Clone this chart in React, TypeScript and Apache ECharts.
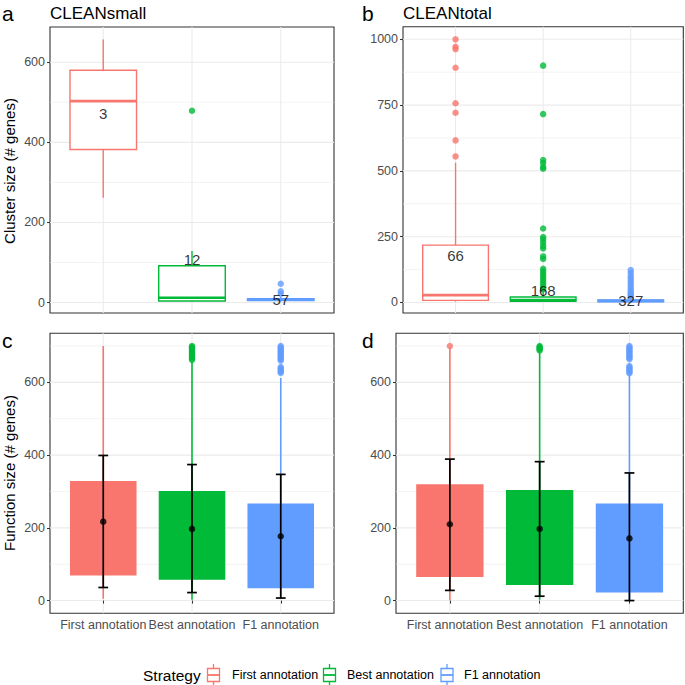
import React, { useEffect, useRef } from "react";
import * as echarts from "echarts";

const FONT = "'Liberation Sans', Arial, Helvetica, sans-serif";

const categories = ["First annotation", "Best annotation", "F1 annotation"];
const colors = ["#F8766D", "#00BA38", "#619CFF"];

// Panel a (CLEANsmall): [whiskerLow, Q1, median, Q3, whiskerHigh]
const boxA = [
  [262, 382, 503, 580, 657],
  [3, 4, 12, 92, 129],
  [3, 5, 7, 10, 14],
];
const outliersA = [[], [479], [47, 28, 22]];
const countsA = ["3", "12", "57"];
const countPosA = [472, 107, 7];

// Panel b (CLEANtotal)
const boxB = [
  [3, 8, 28, 218, 531],
  [2, 4, 9, 21, 45],
  [1, 3, 6, 10, 20],
];
const outliersB = [
  [1000, 972, 963, 892, 757, 721, 616, 555],
  [900, 716, 541, 530, 515, 508, 281, 249, 240, 228, 215, 205, 175, 165, 128, 118, 108, 98, 88, 78, 68, 58, 50],
  [123, 112, 100, 90, 80, 70, 60, 50, 42, 35, 28, 24],
];
const countsB = ["66", "168", "327"];
const countPosB = [177, 44, 9];

// Panel c (function sizes, CLEANsmall): [whiskerLow, Q1, Q3, whiskerHigh]
const boxC = [
  [5, 69, 329, 700],
  [2, 57, 301, 656],
  [5, 34, 267, 612],
];
const outliersC = [
  [],
  [700, 697, 694, 690, 686, 682, 678, 674, 670, 666, 662],
  [700, 696, 692, 688, 684, 680, 676, 672, 668, 664, 660, 642, 638, 634, 630, 626],
];
// [low, mean, high]
const errC = [
  [36, 217, 399],
  [22, 197, 374],
  [7, 177, 347],
];

// Panel d (function sizes, CLEANtotal)
const boxD = [
  [1, 65, 320, 695],
  [2, 43, 304, 684],
  [1, 22, 267, 620],
];
const outliersD = [
  [700],
  [700, 697, 694, 691, 688],
  [700, 696, 692, 688, 684, 680, 676, 672, 668, 664, 645, 641, 637, 633, 629, 625],
];
const errD = [
  [28, 210, 389],
  [12, 197, 382],
  [0, 171, 351],
];

const ticksA = [0, 200, 400, 600];
const minorA = [100, 300, 500];
const ticksB = [0, 250, 500, 750, 1000];
const minorB = [125, 375, 625, 875];
const ticksCD = [0, 200, 400, 600];
const minorCD = [100, 300, 500, 700];

const panelTitles = ["CLEANsmall", "CLEANtotal"];
const panelLetters = ["a", "b", "c", "d"];
const yTitles = ["Cluster size (# genes)", "Function size (# genes)"];
const legendTitle = "Strategy";

const grids = [
  { left: 50, top: 27, width: 284, height: 286, ymin: -26, ymax: 688 },
  { left: 403, top: 26.7, width: 280.3, height: 286.3, ymin: -40, ymax: 1048 },
  { left: 50, top: 333.3, width: 284, height: 280, ymin: -35, ymax: 735 },
  { left: 396, top: 333.3, width: 287.3, height: 280, ymin: -35, ymax: 735 },
];

function gridSeries(gi: number, ticks: number[], minor: number[]) {
  const data: number[][] = [];
  ticks.forEach((v) => data.push([0, v]));
  minor.forEach((v) => data.push([1, v]));
  [1, 2, 3].forEach((v) => data.push([2, v]));
  return {
    type: "custom",
    xAxisIndex: gi,
    yAxisIndex: gi,
    silent: true,
    z: 0,
    data,
    renderItem: (params: any, api: any) => {
      const cs = params.coordSys;
      const kind = api.value(0);
      const v = api.value(1);
      if (kind === 2) {
        const p = api.coord([v, 0]);
        return {
          type: "line",
          shape: { x1: p[0], y1: cs.y, x2: p[0], y2: cs.y + cs.height },
          style: { stroke: "#EBEBEB", lineWidth: 1.07 },
        };
      }
      const p = api.coord([1, v]);
      return {
        type: "line",
        shape: { x1: cs.x, y1: p[1], x2: cs.x + cs.width, y2: p[1] },
        style: { stroke: "#EBEBEB", lineWidth: kind === 0 ? 1.07 : 0.6 },
      };
    },
  };
}

function boxplotSeries(gi: number, boxes: number[][]) {
  return {
    type: "custom",
    xAxisIndex: gi,
    yAxisIndex: gi,
    z: 2,
    data: boxes.map((b, i) => [i + 1, ...b]),
    encode: { x: 0, y: [1, 2, 3, 4, 5] },
    renderItem: (params: any, api: any) => {
      const x = api.value(0);
      const lo = api.coord([x, api.value(1)]);
      const q1 = api.coord([x, api.value(2)]);
      const md = api.coord([x, api.value(3)]);
      const q3 = api.coord([x, api.value(4)]);
      const hi = api.coord([x, api.value(5)]);
      const w = api.size([0.75, 0])[0];
      const c = colors[params.dataIndex];
      return {
        type: "group",
        children: [
          { type: "line", shape: { x1: lo[0], y1: lo[1], x2: q1[0], y2: q1[1] }, style: { stroke: c, lineWidth: 1.4 } },
          { type: "line", shape: { x1: q3[0], y1: q3[1], x2: hi[0], y2: hi[1] }, style: { stroke: c, lineWidth: 1.4 } },
          {
            type: "rect",
            shape: { x: q3[0] - w / 2, y: q3[1], width: w, height: q1[1] - q3[1] },
            style: { fill: "#ffffff", stroke: c, lineWidth: 1.4 },
          },
          {
            type: "line",
            shape: { x1: md[0] - w / 2, y1: md[1], x2: md[0] + w / 2, y2: md[1] },
            style: { stroke: c, lineWidth: 2.6 },
          },
        ],
      };
    },
  };
}

function filledBoxSeries(gi: number, boxes: number[][]) {
  return {
    type: "custom",
    xAxisIndex: gi,
    yAxisIndex: gi,
    z: 2,
    data: boxes.map((b, i) => [i + 1, ...b]),
    encode: { x: 0, y: [1, 2, 3, 4] },
    renderItem: (params: any, api: any) => {
      const x = api.value(0);
      const lo = api.coord([x, api.value(1)]);
      const q1 = api.coord([x, api.value(2)]);
      const q3 = api.coord([x, api.value(3)]);
      const hi = api.coord([x, api.value(4)]);
      const w = api.size([0.75, 0])[0];
      const c = colors[params.dataIndex];
      return {
        type: "group",
        children: [
          { type: "line", shape: { x1: lo[0], y1: lo[1], x2: hi[0], y2: hi[1] }, style: { stroke: c, lineWidth: 1.6 } },
          {
            type: "rect",
            shape: { x: q3[0] - w / 2, y: q3[1], width: w, height: q1[1] - q3[1] },
            style: { fill: c, stroke: null },
          },
        ],
      };
    },
  };
}

function outlierSeries(gi: number, outs: number[][]) {
  const data: any[] = [];
  outs.forEach((arr, i) =>
    arr.forEach((v) => data.push({ value: [i + 1, v], itemStyle: { color: colors[i] } }))
  );
  return {
    type: "scatter",
    xAxisIndex: gi,
    yAxisIndex: gi,
    z: 3,
    symbolSize: 6.5,
    silent: true,
    data,
  };
}

function countSeries(gi: number, counts: string[], pos: number[]) {
  return {
    type: "scatter",
    xAxisIndex: gi,
    yAxisIndex: gi,
    z: 5,
    symbolSize: 1,
    itemStyle: { color: "rgba(0,0,0,0)" },
    silent: true,
    data: counts.map((c, i) => ({ name: c, value: [i + 1, pos[i]] })),
    label: {
      show: true,
      position: "inside",
      formatter: "{b}",
      color: "#000000",
      fontSize: 15,
      fontFamily: FONT,
    },
  };
}

function errorSeries(gi: number, errs: number[][]) {
  return {
    type: "custom",
    xAxisIndex: gi,
    yAxisIndex: gi,
    z: 4,
    data: errs.map((e, i) => [i + 1, e[0], e[1], e[2]]),
    encode: { x: 0, y: [1, 2, 3] },
    renderItem: (params: any, api: any) => {
      const x = api.value(0);
      const lo = api.coord([x, api.value(1)]);
      const hi = api.coord([x, api.value(3)]);
      const cw = api.size([0.11, 0])[0];
      const st = { stroke: "#000000", lineWidth: 1.7 };
      return {
        type: "group",
        children: [
          { type: "line", shape: { x1: lo[0], y1: lo[1], x2: hi[0], y2: hi[1] }, style: st },
          { type: "line", shape: { x1: lo[0] - cw / 2, y1: lo[1], x2: lo[0] + cw / 2, y2: lo[1] }, style: st },
          { type: "line", shape: { x1: hi[0] - cw / 2, y1: hi[1], x2: hi[0] + cw / 2, y2: hi[1] }, style: st },
        ],
      };
    },
  };
}

function meanSeries(gi: number, errs: number[][]) {
  return {
    type: "scatter",
    xAxisIndex: gi,
    yAxisIndex: gi,
    z: 5,
    symbolSize: 6.5,
    silent: true,
    itemStyle: { color: "#000000" },
    data: errs.map((e, i) => [i + 1, e[1]]),
  };
}

function xAxisCfg(gi: number, showLabels: boolean) {
  return {
    type: "value",
    gridIndex: gi,
    min: 0.4,
    max: 3.6,
    axisLine: { show: false },
    axisTick: {
      show: showLabels,
      customValues: [1, 2, 3],
      length: 3,
      lineStyle: { color: "#333333", width: 1.07 },
    },
    axisLabel: {
      show: showLabels,
      customValues: [1, 2, 3],
      formatter: (v: number) => categories[Math.round(v) - 1] ?? "",
      margin: 5,
      color: "#4D4D4D",
      fontSize: 12.5,
      fontFamily: FONT,
    },
    splitLine: { show: false },
  };
}

function yAxisCfg(gi: number, ticks: number[]) {
  const g = grids[gi];
  return {
    type: "value",
    gridIndex: gi,
    min: g.ymin,
    max: g.ymax,
    axisLine: { show: false },
    axisTick: {
      show: true,
      customValues: ticks,
      length: 3,
      lineStyle: { color: "#333333", width: 1.07 },
    },
    axisLabel: {
      show: true,
      customValues: ticks,
      formatter: (v: number) => String(Math.round(v)),
      margin: 5,
      color: "#4D4D4D",
      fontSize: 12.5,
      fontFamily: FONT,
    },
    splitLine: { show: false },
  };
}

function textEl(text: string, x: number, y: number, size: number, extra: any = {}) {
  return {
    type: "text",
    x,
    y,
    silent: true,
    ...extra,
    style: {
      text,
      fill: "#000000",
      font: `${size}px ${FONT}`,
      textAlign: extra.align || "left",
      align: extra.align || "left",
      textVerticalAlign: "middle",
      verticalAlign: "middle",
    },
  };
}

function legendGraphics() {
  const els: any[] = [];
  els.push(textEl(legendTitle, 143, 675, 15.5));
  const keyX = [213.5, 329.5, 447];
  const textX = [232, 347, 464];
  categories.forEach((c, i) => {
    const col = colors[i];
    els.push({
      type: "group",
      silent: true,
      children: [
        { type: "line", shape: { x1: keyX[i], y1: 664, x2: keyX[i], y2: 686 }, style: { stroke: col, lineWidth: 1.3 } },
        { type: "rect", shape: { x: keyX[i] - 6, y: 668.5, width: 12, height: 13 }, style: { fill: "#ffffff", stroke: col, lineWidth: 1.3 } },
        { type: "line", shape: { x1: keyX[i] - 6, y1: 675, x2: keyX[i] + 6, y2: 675 }, style: { stroke: col, lineWidth: 1.8 } },
      ],
    });
    els.push(textEl(c, textX[i], 675, 12.5));
  });
  return els;
}

export default function App() {
  const ref = useRef<HTMLDivElement>(null);
  useEffect(() => {
    if (!ref.current) return;
    const chart = echarts.init(ref.current, null, { renderer: "svg" });
    const option: any = {
      animation: false,
      backgroundColor: "#ffffff",
      grid: grids.map((g) => ({
        left: g.left,
        top: g.top,
        width: g.width,
        height: g.height,
        show: true,
        borderColor: "#333333",
        borderWidth: 1.1,
        backgroundColor: "#ffffff",
      })),
      xAxis: [xAxisCfg(0, false), xAxisCfg(1, false), xAxisCfg(2, true), xAxisCfg(3, true)],
      yAxis: [yAxisCfg(0, ticksA), yAxisCfg(1, ticksB), yAxisCfg(2, ticksCD), yAxisCfg(3, ticksCD)],
      series: [
        gridSeries(0, ticksA, minorA),
        gridSeries(1, ticksB, minorB),
        gridSeries(2, ticksCD, minorCD),
        gridSeries(3, ticksCD, minorCD),
        boxplotSeries(0, boxA),
        outlierSeries(0, outliersA),
        countSeries(0, countsA, countPosA),
        boxplotSeries(1, boxB),
        outlierSeries(1, outliersB),
        countSeries(1, countsB, countPosB),
        filledBoxSeries(2, boxC),
        outlierSeries(2, outliersC),
        errorSeries(2, errC),
        meanSeries(2, errC),
        filledBoxSeries(3, boxD),
        outlierSeries(3, outliersD),
        errorSeries(3, errD),
        meanSeries(3, errD),
      ],
      graphic: [
        textEl(panelLetters[0], 2, 13, 21),
        textEl(panelLetters[1], 362, 13, 21),
        textEl(panelLetters[2], 2, 340, 21),
        textEl(panelLetters[3], 362, 340, 21),
        textEl(panelTitles[0], 50, 13.5, 17),
        textEl(panelTitles[1], 403, 13.5, 17),
        textEl(yTitles[0], 9, 171, 15, { rotation: Math.PI / 2, align: "center" }),
        textEl(yTitles[1], 9, 473, 15, { rotation: Math.PI / 2, align: "center" }),
        ...legendGraphics(),
      ],
    };
    chart.setOption(option);
    return () => chart.dispose();
  }, []);
  return (
    <div
      ref={ref}
      style={{ position: "fixed", left: 0, top: 0, width: 685, height: 685 }}
    />
  );
}
